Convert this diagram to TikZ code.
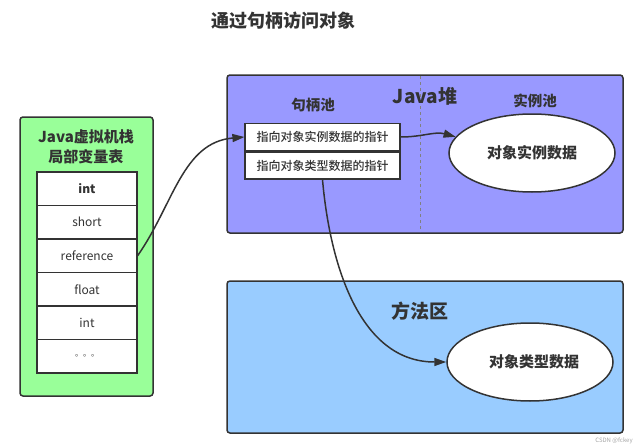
\documentclass[tikz,border=0pt]{standalone}
\usepackage{fontspec}
\setmainfont{Noto Sans CJK SC}
\newfontfamily\mediumcjk{Noto Sans CJK SC Medium}
\usetikzlibrary{arrows.meta,shapes.geometric}

\definecolor{stackgreen}{HTML}{99FF99}
\definecolor{heapviolet}{HTML}{9999FF}
\definecolor{methodblue}{HTML}{99CCFF}
\definecolor{edgegray}{HTML}{333333}

\tikzset{
  area/.style={draw=edgegray, line width=1.5pt, rounded corners=3pt},
  cell/.style={draw=edgegray, fill=white, line width=1.2pt, minimum width=100pt,
    minimum height=33.5pt, inner sep=0pt, text=edgegray, font=\fontsize{12}{14}\selectfont},
  ptr/.style={draw=edgegray, fill=white, line width=1.2pt, minimum width=155pt,
    minimum height=27pt, inner sep=0pt, text=edgegray, font=\mediumcjk\fontsize{12}{14}\selectfont},
  blob/.style={ellipse, draw=edgegray, fill=white, line width=1.5pt, minimum width=166pt,
    minimum height=78pt, text=edgegray, font=\bfseries\fontsize{15}{18}\selectfont},
  link/.style={-{Triangle[length=12pt,width=8pt]}, draw=edgegray, line width=1.5pt},
  heading/.style={text=edgegray, align=center, font=\bfseries\fontsize{#1}{#1}\selectfont},
}

\begin{document}
\begin{tikzpicture}[x=1pt,y=-1pt]
    \useasboundingbox (0,0) rectangle (641,447);
    % Title
    \node[heading=18] (title) at (283,21) {通过句柄访问对象};
    % Left: stack frame with local variables
    \draw[area, fill=stackgreen] (20,117) rectangle (153,396);
    \node[heading=15, font=\bfseries\fontsize{15}{20}\selectfont] (stack) at (86,147) {Java虚拟机栈\\局部变量表};
    \foreach \i/\t in {1/{\bfseries int},2/short,3/reference,4/float,5/int,6/{\fontsize{8}{8}\selectfont 。。。}}
      \node[cell] (r\i) at (87,{172+16.75+33.5*(\i-1)}) {\t};
    % Right top: Java heap
    \draw[area, fill=heapviolet] (227,75) rectangle (623,233);
    \draw[dashed, draw=gray] (420,76) -- (420,232);
    \node[heading=19] (heap) at (425,96) {Java堆};
    \node[heading=14.5] (pool) at (313,105) {句柄池};
    \node[heading=14.5] (inst) at (535,101) {实例池};
    \node[ptr] (p1) at (322.5,137) {指向对象实例数据的指针};
    \node[ptr] (p2) at (322.5,165.5) {指向对象类型数据的指针};
    \node[blob] (e1) at (532,153) {对象实例数据};
    % Right bottom: method area
    \draw[area, fill=methodblue] (227,281) rectangle (623,433);
    \node[heading=19] (method) at (420,311) {方法区};
    \node[blob] (e2) at (530,362) {\hspace{8pt}对象类型数据};
    % Arrows
    \draw[link] (r3.east) to[out=55,in=185] (p1.west);
    \draw[link] (p1.east) to[out=0,in=165] (e1.168);
    \draw[link] (p2.south) to[out=-85,in=180] (e2.west);
    % Watermark
    \node[text=gray!70, font=\fontsize{6}{6}\selectfont] (mark) at (614,441) {CSDN @fckey};
\end{tikzpicture}
\end{document}
